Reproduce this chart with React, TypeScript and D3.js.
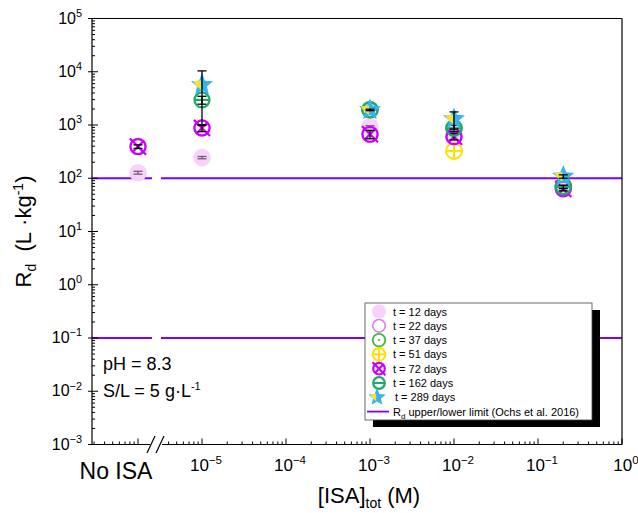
import React from 'react';
import * as d3 from 'd3';

// ---------- data ----------
const isaLabels = ['No ISA', '1e-5', '1e-3', '1e-2', '0.2'];
const isaConc: (number | null)[] = [null, 1e-5, 1e-3, 1e-2, 0.2];
const noIsaValue = 1e-7; // position of "No ISA" on the broken segment

const rd12: (number | null)[] = [127, 244, 930, 700, 70];
const rd22: (number | null)[] = [400, 880, 671, 600, 65];
const rd37: (number | null)[] = [null, null, 1950, 880, 72];
const rd51: (number | null)[] = [null, null, null, 326, null];
const rd72: (number | null)[] = [393, 880, 671, 604, 63];
const rd162: (number | null)[] = [null, 2960, 1920, 870, 69];
const rd289: (number | null)[] = [null, 5680, 1920, 1300, 108];

const err12: (number | null)[] = [8, 12, 40, 30, 3];
const err72: (number | null)[] = [30, 130, 120, 80, 5];
const err162: (number | null)[] = [null, 500, 60, 120, 5];
const err289: (number | null)[] = [null, 4700, 60, 460, 8];

const yTickExps = [-3, -2, -1, 0, 1, 2, 3, 4, 5];
const xTickExps = [-5, -4, -3, -2, -1, 0];
const limitValues = [100, 0.1];

const legendLabels = [
  't = 12 days', 't = 22 days', 't = 37 days', 't = 51 days',
  't = 72 days', 't = 162 days', 't = 289 days',
];

// ---------- layout ----------
const W = 638, H = 513;
const L = 92, R = 622, T = 18.5, B = 444.5;
const breakL = 150, breakR = 162;
const FONT = 'Arial, "Liberation Sans", sans-serif';

const y = d3.scaleLog().domain([1e-3, 1e5]).range([B, T]);
const xMain = d3.scaleLog().domain([1e-5, 1]).range([202, R]);
const xSeg = d3.scaleLog().domain([1e-7, 1e-6]).range([138, 222]);

const xPos = (i: number) => {
  const c = isaConc[i];
  return c === null ? xSeg(noIsaValue) : xMain(c);
};

const purple = '#8000ff';

type Kind = 't12' | 't22' | 't37' | 't51' | 't72' | 't162' | 't289';

function starPoints(r: number, ri: number) {
  const pts: string[] = [];
  for (let k = 0; k < 10; k++) {
    const a = -Math.PI / 2 + (k * Math.PI) / 5;
    const rr = k % 2 === 0 ? r : ri;
    pts.push(`${(rr * Math.cos(a)).toFixed(2)},${(rr * Math.sin(a)).toFixed(2)}`);
  }
  return pts.join(' ');
}

function Marker({ kind, cx, cy, s = 1 }: { kind: Kind; cx: number; cy: number; s?: number }) {
  const r = 8.5 * s;
  const d = r * 0.62;
  switch (kind) {
    case 't12':
      return <circle cx={cx} cy={cy} r={r + 0.3} fill="#f9d2f9" />;
    case 't22':
      return <circle cx={cx} cy={cy} r={r - 0.5} fill="none" stroke="#e07cf0" strokeWidth={1.6} />;
    case 't37':
      return (
        <g>
          <circle cx={cx} cy={cy} r={r - 0.5} fill="none" stroke="#3fb83f" strokeWidth={1.8} />
          <circle cx={cx} cy={cy} r={1.3 * s} fill="#3fb83f" />
        </g>
      );
    case 't51':
      return (
        <g stroke="#ffe000" strokeWidth={2} fill="none">
          <circle cx={cx} cy={cy} r={r - 0.5} />
          <line x1={cx - r} x2={cx + r} y1={cy} y2={cy} />
          <line x1={cx} x2={cx} y1={cy - r} y2={cy + r} />
        </g>
      );
    case 't72':
      return (
        <g stroke="#cc00ff" strokeWidth={2.2} fill="none">
          <circle cx={cx} cy={cy} r={r - 1} />
          <line x1={cx - d} x2={cx + d} y1={cy - d} y2={cy + d} />
          <line x1={cx - d} x2={cx + d} y1={cy + d} y2={cy - d} />
          <line x1={cx - r * 0.95} x2={cx - r * 0.5} y1={cy - r * 0.95} y2={cy - r * 0.5} />
          <line x1={cx + r * 0.95} x2={cx + r * 0.5} y1={cy + r * 0.95} y2={cy + r * 0.5} />
        </g>
      );
    case 't162':
      return (
        <g stroke="#22a86a" strokeWidth={2.2} fill="none">
          <circle cx={cx} cy={cy} r={r - 1} />
          <line x1={cx - r + 1} x2={cx + r - 1} y1={cy} y2={cy} />
        </g>
      );
    case 't289': {
      const rs = 11.5 * s;
      return (
        <g transform={`translate(${cx},${cy})`}>
          <polygon points={starPoints(rs, rs * 0.45)} fill="#36b4f0" />
          <polygon
            points={`${-1 * s},${-4.5 * s} ${-1 * s},${5 * s} ${-6 * s},${1 * s} ${-9 * s},${-3.5 * s}`}
            fill="#f3e23a"
          />
        </g>
      );
    }
  }
  return null;
}

function ErrBar({ cx, v, e, color = '#000', op = 1 }: { cx: number; v: number; e: number; color?: string; op?: number }) {
  const y1 = y(v + e), y0 = y(Math.max(v - e, 1e-3));
  const cw = 4.5;
  return (
    <g stroke={color} strokeWidth={1.3} opacity={op}>
      <line x1={cx} x2={cx} y1={y1} y2={y0} />
      <line x1={cx - cw} x2={cx + cw} y1={y1} y2={y1} />
      <line x1={cx - cw} x2={cx + cw} y1={y0} y2={y0} />
    </g>
  );
}

function Pow({ x, yy, exp, size, anchor = 'middle' }: { x: number; yy: number; exp: string; size: number; anchor?: string }) {
  return (
    <text x={x} y={yy} fontSize={size} fontFamily={FONT} textAnchor={anchor as any} fill="#000">
      10
      <tspan dy={-size * 0.42} fontSize={size * 0.68}>{exp}</tspan>
    </text>
  );
}

export default function App() {
  const seriesList: { kind: Kind; vals: (number | null)[]; err?: (number | null)[]; errOp?: number }[] = [
    { kind: 't12', vals: rd12, err: err12, errOp: 0.55 },
    { kind: 't22', vals: rd22 },
    { kind: 't37', vals: rd37 },
    { kind: 't51', vals: rd51 },
    { kind: 't72', vals: rd72, err: err72 },
    { kind: 't162', vals: rd162, err: err162 },
    { kind: 't289', vals: rd289, err: err289 },
  ];

  // minor ticks
  const yMinor: number[] = [];
  for (let e = -3; e < 5; e++) for (let k = 2; k <= 9; k++) yMinor.push(k * Math.pow(10, e));
  const xMinorMain: number[] = [];
  for (let e = -6; e < 0; e++)
    for (let k = 2; k <= 9; k++) {
      const v = k * Math.pow(10, e);
      const px = xMain(v);
      if (px > breakR + 1 && px < R) xMinorMain.push(px);
    }
  const xMinorSeg: number[] = [];
  for (let e = -8; e < -6; e++)
    for (let k = 2; k <= 9; k++) {
      const px = xSeg(k * Math.pow(10, e));
      if (px > L + 1 && px < breakL - 1) xMinorSeg.push(px);
    }

  const legX = 365, legY = 303, legW = 227, legH = 117;
  const rowY = (i: number) => legY + 8.5 + i * 14.3;

  return (
    <svg width={W} height={H} style={{ position: 'absolute', left: 0, top: 0, background: '#fff' }}>
      <rect width={W} height={H} fill="#fff" />

      {/* limit lines */}
      {limitValues.map((v) => (
        <g key={v} stroke={purple} strokeWidth={1.8}>
          <line x1={L} x2={breakL + 2} y1={y(v)} y2={y(v)} />
          <line x1={breakR - 1} x2={R} y1={y(v)} y2={y(v)} />
        </g>
      ))}

      {/* frame */}
      <g stroke="#000" strokeWidth={1.2} fill="none">
        <line x1={L} x2={L} y1={T} y2={B} />
        <line x1={L} x2={R} y1={T} y2={T} />
        <line x1={R} x2={R} y1={T} y2={B} />
        <line x1={L} x2={breakL} y1={B} y2={B} />
        <line x1={breakR} x2={R} y1={B} y2={B} />
        {/* break marks */}
        <line x1={147} x2={155} y1={453} y2={436} />
        <line x1={156} x2={164} y1={453} y2={436} />
      </g>

      {/* y ticks */}
      <g stroke="#000" strokeWidth={1}>
        {yTickExps.map((e) => (
          <line key={e} x1={L - 4} x2={L + 6} y1={y(Math.pow(10, e))} y2={y(Math.pow(10, e))} />
        ))}
        {yMinor.map((v, i) => (
          <line key={i} x1={L} x2={L + 3} y1={y(v)} y2={y(v)} />
        ))}
      </g>
      {yTickExps.map((e) => (
        <Pow key={e} x={82} yy={y(Math.pow(10, e)) + 5} exp={e < 0 ? `\u2212${-e}` : `${e}`} size={16} anchor="end" />
      ))}

      {/* x ticks */}
      <g stroke="#000" strokeWidth={1}>
        {xTickExps.map((e) => (
          <line key={e} x1={xMain(Math.pow(10, e))} x2={xMain(Math.pow(10, e))} y1={B} y2={B - 6} />
        ))}
        <line x1={xSeg(noIsaValue)} x2={xSeg(noIsaValue)} y1={B} y2={B - 6} />
        {xMinorMain.map((px, i) => (
          <line key={'m' + i} x1={px} x2={px} y1={B} y2={B - 3} />
        ))}
        {xMinorSeg.map((px, i) => (
          <line key={'s' + i} x1={px} x2={px} y1={B} y2={B - 3} />
        ))}
      </g>
      {xTickExps.map((e) => (
        <Pow key={e} x={xMain(Math.pow(10, e)) + 4} yy={471} exp={e < 0 ? `\u2212${-e}` : `${e}`} size={17} />
      ))}
      <text x={116} y={479} fontSize={23} fontFamily={FONT} textAnchor="middle">{isaLabels[0]}</text>

      {/* axis titles */}
      <text x={369} y={503} fontSize={22} fontFamily={FONT} textAnchor="middle">
        [ISA]<tspan dy={5} fontSize={14}>tot</tspan><tspan dy={-5}> (M)</tspan>
      </text>
      <text transform={`translate(31,${(T + B) / 2}) rotate(-90)`} fontSize={22} fontFamily={FONT} textAnchor="middle">
        R<tspan dy={5} fontSize={14}>d</tspan><tspan dy={-5}>{'\u00a0\u00a0(L\u00a0\u00b7kg'}</tspan>
        <tspan dy={-8} fontSize={14}>-1</tspan><tspan dy={8}>)</tspan>
      </text>

      {/* annotations */}
      <text x={103} y={370} fontSize={18} fontFamily={FONT}>pH = 8.3</text>
      <text x={103} y={397} fontSize={18} fontFamily={FONT}>
        {'S/L = 5 g\u00b7L'}<tspan dy={-7} fontSize={11}>-1</tspan>
      </text>

      {/* data */}
      {seriesList.map((s) => (
        <g key={s.kind}>
          {s.vals.map((v, i) =>
            v === null ? null : <Marker key={'m' + i} kind={s.kind} cx={xPos(i)} cy={y(v)} />
          )}
          {s.err &&
            s.vals.map((v, i) =>
              v === null || s.err![i] == null ? null : (
                <ErrBar key={'e' + i} cx={xPos(i)} v={v} e={s.err![i] as number} op={s.errOp ?? 1} />
              )
            )}
        </g>
      ))}

      {/* legend */}
      <rect x={legX + 8} y={legY + 7} width={legW} height={legH} fill="#000" />
      <rect x={legX} y={legY} width={legW} height={legH} fill="#fff" stroke="#444" strokeWidth={0.8} />
      {seriesList.map((s, i) => (
        <g key={'l' + s.kind}>
          <Marker kind={s.kind} cx={s.kind === 't289' ? legX + 12 : legX + 14} cy={rowY(i)} s={0.8} />
          <text x={legX + (s.kind === 't289' ? 30 : 28)} y={rowY(i) + 4} fontSize={11} fontFamily={FONT}>
            {legendLabels[i]}
          </text>
        </g>
      ))}
      <line x1={legX + 2} x2={legX + 24} y1={rowY(7)} y2={rowY(7)} stroke={purple} strokeWidth={1.8} />
      <text x={legX + 28} y={rowY(7) + 4} fontSize={11} fontFamily={FONT}>
        R<tspan dy={3} fontSize={8}>d</tspan><tspan dy={-3}> upper/lower limit (Ochs et al. 2016)</tspan>
      </text>
    </svg>
  );
}
